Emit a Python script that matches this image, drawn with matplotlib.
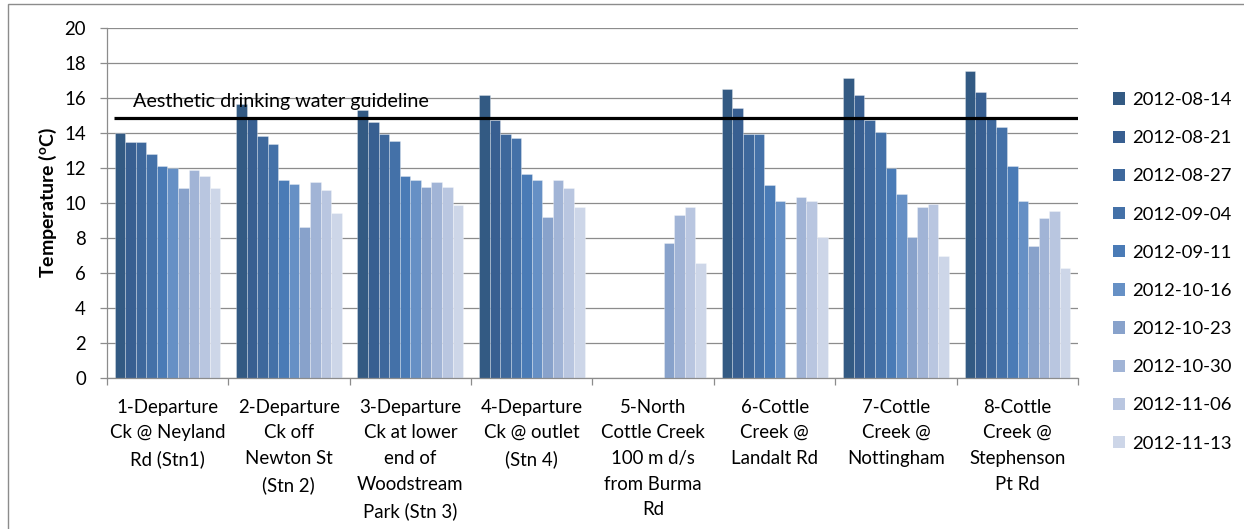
import matplotlib
matplotlib.use('Agg')
import matplotlib.pyplot as plt
from matplotlib.patches import Rectangle
import numpy as np

nan = np.nan

sites = ["1-Departure\nCk @ Neyland\nRd (Stn1)",
         "2-Departure\nCk off\nNewton St\n(Stn 2)",
         "3-Departure\nCk at lower\nend of\nWoodstream\nPark (Stn 3)",
         "4-Departure\nCk @ outlet\n(Stn 4)",
         "5-North\nCottle Creek\n100 m d/s\nfrom Burma\nRd",
         "6-Cottle\nCreek @\nLandalt Rd",
         "7-Cottle\nCreek @\nNottingham",
         "8-Cottle\nCreek @\nStephenson\nPt Rd"]

dates = ["2012-08-14", "2012-08-21", "2012-08-27", "2012-09-04", "2012-09-11",
         "2012-10-16", "2012-10-23", "2012-10-30", "2012-11-06", "2012-11-13"]

site1 = [14.0, 13.45, 13.45, 12.8, 12.1, 12.0, 10.85, 11.85, 11.55, 10.85]
site2 = [15.65, 14.8, 13.8, 13.35, 11.3, 11.05, 8.6, 11.2, 10.75, 9.4]
site3 = [15.3, 14.6, 13.9, 13.5, 11.55, 11.3, 10.9, 11.2, 10.9, 9.85]
site4 = [16.15, 14.7, 13.9, 13.7, 11.65, 11.3, 9.2, 11.3, 10.85, 9.75]
site5 = [nan, nan, nan, nan, nan, nan, 7.7, 9.3, 9.75, 6.55]
site6 = [16.5, 15.4, 13.9, 13.9, 11.0, 10.1, nan, 10.3, 10.1, 8.05]
site7 = [17.1, 16.15, 14.7, 14.05, 12.0, 10.5, 8.05, 9.75, 9.95, 6.95]
site8 = [17.5, 16.3, 14.8, 14.35, 12.1, 10.1, 7.5, 9.15, 9.5, 6.25]

guideline_value = 14.86
guideline_label = "Aesthetic drinking water guideline"

colors = ["#335A83", "#385F91", "#3E689C", "#4471A8", "#4A7BB6",
          "#6690C5", "#88A2CB", "#A1B4D6", "#B9C6E0", "#CDD6E8"]

FONT = ["Lato", "DejaVu Sans"]
plt.rcParams['font.family'] = FONT

data = np.array([site1, site2, site3, site4, site5, site6, site7, site8])

fig = plt.figure(figsize=(12.44, 5.29), dpi=100)
W, H = 1244, 529
ax = fig.add_axes([106.7 / W, 1 - 377.7 / H, (1078.3 - 106.7) / W, (377.7 - 27.7) / H])

x = np.arange(len(sites))
n = len(dates)
group_w = 0.87
bw = group_w / n
for i in range(n):
    ax.bar(x + (i - (n - 1) / 2) * bw, data[:, i], width=bw, color=colors[i],
           edgecolor=(1, 1, 1, 0.35), linewidth=0.6, label=dates[i], zorder=2)

ax.set_xlim(-0.5, len(sites) - 0.5)
ax.set_ylim(0, 20)
ax.set_yticks(np.arange(0, 21, 2))
ax.yaxis.grid(True, color="#8C8C8C", linewidth=0.9, zorder=0)
ax.set_axisbelow(True)

ax.plot([-0.44, len(sites) - 0.5], [guideline_value, guideline_value], color="black",
        linewidth=2.3, zorder=3, solid_capstyle='butt')
ax.text(-0.28, guideline_value + 0.42, guideline_label, fontsize=14.2, color="black",
        ha="left", va="bottom", zorder=4)

for s in ["top", "right"]:
    ax.spines[s].set_visible(False)
for s in ["left", "bottom"]:
    ax.spines[s].set_color("#8C8C8C")
    ax.spines[s].set_linewidth(0.9)

ax.set_xticks(x)
ax.set_xticklabels(sites, fontsize=13.4, linespacing=1.62, va="top")
ax.set_xticks(np.arange(-0.5, len(sites), 1), minor=True)
ax.tick_params(axis="x", which="major", length=0, pad=15)
ax.tick_params(axis="x", which="minor", length=5, color="#8C8C8C", width=0.9)
ax.tick_params(axis="y", length=5, color="#8C8C8C", width=0.9, labelsize=13.4, pad=10)

ax.set_ylabel(r"Temperature ($\mathregular{^o}$C)", fontsize=14.0, fontweight="bold", labelpad=4)

leg = ax.legend(loc="upper left", bbox_to_anchor=(1113 / W, 1 - 92 / H),
                bbox_transform=fig.transFigure, frameon=False, fontsize=13.3,
                handlelength=0.65, handleheight=0.65, handletextpad=0.4,
                labelspacing=1.2, borderpad=0, borderaxespad=0)
for h in leg.legend_handles:
    h.set_edgecolor("none")

fig.patches.append(Rectangle((8 / W, -0.1), 1.2, 1.1 - 4.5 / H, transform=fig.transFigure,
                             fill=False, edgecolor="#8C8C8C", linewidth=1.0))

fig.savefig("out.png", dpi=100)
